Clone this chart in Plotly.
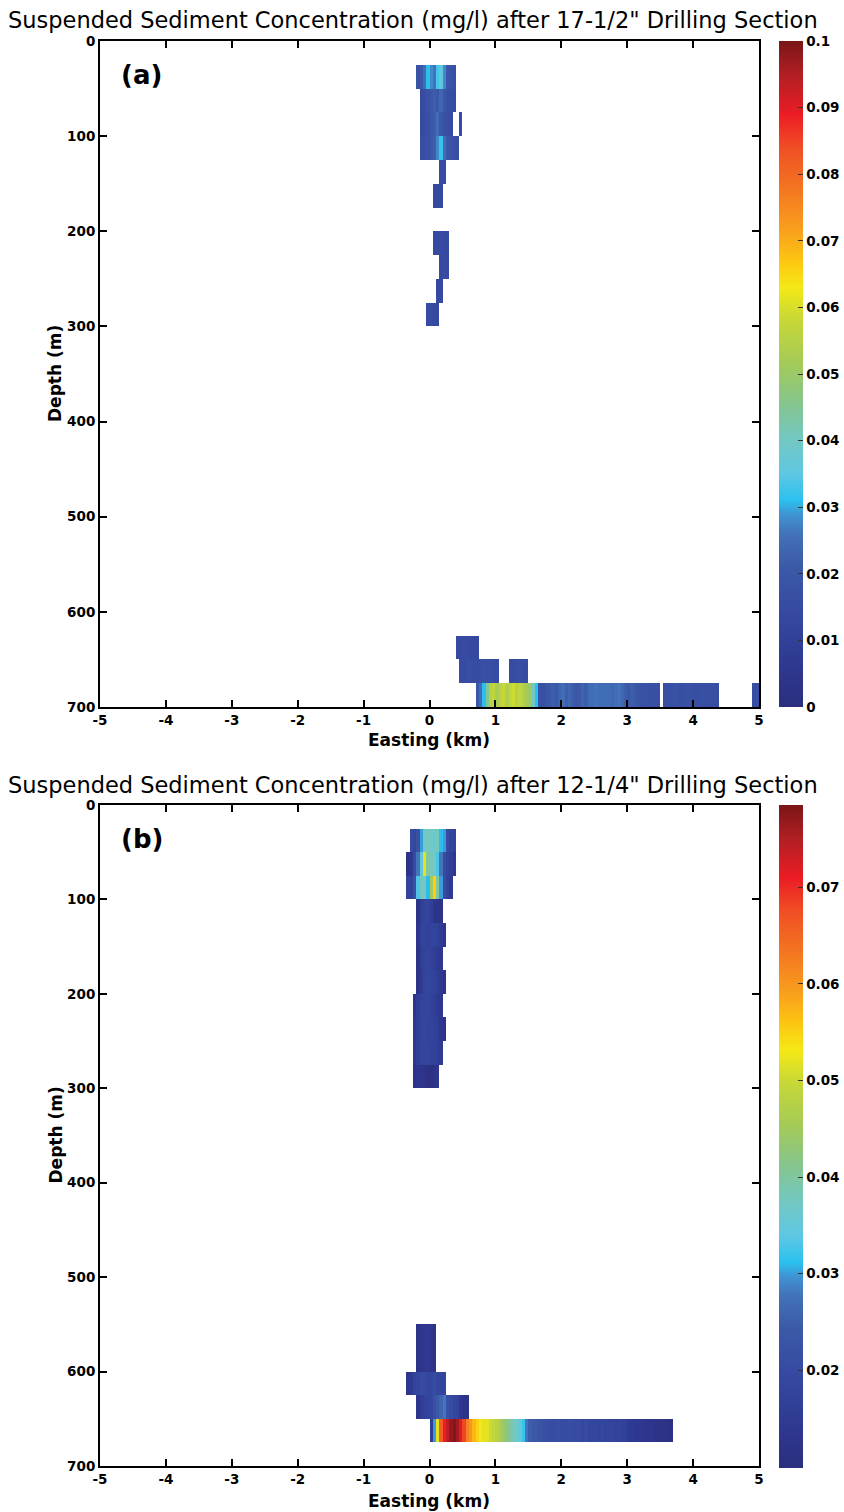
import numpy as np
import plotly.graph_objects as go

# ---------------- data ----------------
DX = 0.05          # km, cell width
DZ = 25            # m, layer thickness
x_edges = np.round(np.arange(-5, 5 + DX / 2, DX), 4)
y_edges = np.arange(0, 700 + DZ, DZ)

# panel (a): layer top depth (m), first cell west edge (km), cell values (mg/l)
a_depth = [25, 50, 75, 100, 125, 150, 200, 225, 250, 275, 625, 650, 675]
a_xstart = [-0.20, -0.15, -0.15, -0.15, 0.15, 0.05, 0.05, 0.15, 0.10, -0.05, 0.40, 0.45, 0.70]
a_values = [
    [0.018, 0.020, 0.025, 0.031, 0.028, 0.026, 0.033, 0.036, 0.028, 0.020, 0.018, 0.017],
    [0.015, 0.016, 0.018, 0.020, 0.022, 0.020, 0.024, 0.020, 0.017, 0.016, 0.015],
    [0.014, 0.015, 0.017, 0.020, 0.022, 0.025, 0.020, 0.017, 0.016, 0.015, None, None, 0.015],
    [0.016, 0.017, 0.018, 0.020, 0.022, 0.028, 0.032, 0.025, 0.020, 0.018, 0.017, 0.016],
    [0.015, 0.015],
    [0.014, 0.014, 0.014],
    [0.014, 0.014, 0.015, 0.014, 0.014],
    [0.014, 0.015, 0.014],
    [0.014, 0.014],
    [0.015, 0.015, 0.014, 0.014],
    [0.014, 0.014, 0.015, 0.015, 0.014, 0.014, 0.014],
    [0.015, 0.015, 0.016, 0.016, 0.015, 0.015, 0.016, 0.017, 0.016, 0.016, 0.015, 0.015,
     None, None, None, 0.015, 0.015, 0.016, 0.016, 0.015, 0.015],
    [0.020, 0.025, 0.031, 0.045, 0.055, 0.057, 0.053, 0.056, 0.058, 0.054, 0.057, 0.059,
     0.055, 0.057, 0.054, 0.052, 0.050, 0.040, 0.031, 0.018, 0.017, 0.019, 0.020, 0.022,
     0.020, 0.023, 0.025, 0.022, 0.024, 0.022, 0.020, 0.021, 0.023, 0.022, 0.025, 0.025,
     0.026, 0.025, 0.025, 0.025, 0.025, 0.024, 0.025, 0.026, 0.024, 0.022, 0.020, 0.022,
     0.020, 0.019, 0.018, 0.018, 0.017, 0.017, 0.017, 0.017, None,
     0.016, 0.017, 0.017, 0.018, 0.017, 0.016, 0.017, 0.018, 0.017, 0.016, 0.016, 0.017,
     0.017, 0.016, 0.016, 0.017, 0.016,
     None, None, None, None, None, None, None, None, None, None, 0.016, 0.016],
]

# panel (b)
b_depth = [25, 50, 75, 100, 125, 150, 175, 200, 225, 250, 275, 550, 575, 600, 625, 650]
b_xstart = [-0.30, -0.35, -0.35, -0.20, -0.20, -0.20, -0.20, -0.25, -0.25, -0.25, -0.25,
            -0.20, -0.20, -0.35, -0.20, 0.00]
b_values = [
    [0.020, 0.019, 0.022, 0.030, 0.036, 0.038, 0.037, 0.036, 0.038, 0.031, 0.030, 0.020, 0.018, 0.017],
    [0.012, 0.014, 0.020, 0.028, 0.035, 0.052, 0.040, 0.038, 0.037, 0.033, 0.028, 0.020, 0.018, 0.016, 0.014],
    [0.018, 0.017, 0.022, 0.033, 0.038, 0.037, 0.031, 0.045, 0.055, 0.040, 0.030, 0.020, 0.017, 0.015],
    [0.012, 0.016, 0.018, 0.018, 0.016, 0.013, 0.012, 0.012],
    [0.013, 0.017, 0.018, 0.017, 0.018, 0.018, 0.017, 0.015, 0.013],
    [0.012, 0.016, 0.018, 0.018, 0.017, 0.016, 0.015, 0.014],
    [0.012, 0.015, 0.018, 0.019, 0.018, 0.017, 0.016, 0.014, 0.012],
    [0.013, 0.016, 0.018, 0.018, 0.018, 0.017, 0.016, 0.015, 0.014],
    [0.014, 0.016, 0.018, 0.019, 0.018, 0.018, 0.017, 0.016, 0.013, 0.012],
    [0.014, 0.016, 0.018, 0.018, 0.018, 0.017, 0.017, 0.016, 0.015],
    [0.012, 0.013, 0.013, 0.012, 0.011, 0.011, 0.012, 0.013],
    [0.012, 0.013, 0.014, 0.014, 0.013, 0.012],
    [0.012, 0.013, 0.014, 0.014, 0.013, 0.012],
    [0.013, 0.015, 0.018, 0.019, 0.020, 0.020, 0.019, 0.019, 0.020, 0.019, 0.018, 0.018],
    [0.013, 0.016, 0.017, 0.018, 0.019, 0.022, 0.024, 0.026, 0.028, 0.022, 0.020, 0.019,
     0.018, 0.014, 0.012, 0.012],
    [0.016, 0.030, 0.052, 0.066, 0.071, 0.074, 0.077, 0.078, 0.076, 0.072, 0.068, 0.062,
     0.060, 0.057, 0.055, 0.053, 0.052, 0.052, 0.050, 0.049, 0.048, 0.046, 0.044, 0.042,
     0.039, 0.038, 0.037, 0.035, 0.032, 0.028,
     0.025, 0.024, 0.024, 0.023, 0.022,
     0.021, 0.021, 0.020, 0.021, 0.021, 0.020, 0.020, 0.021, 0.020, 0.020, 0.020, 0.019,
     0.020, 0.019, 0.019, 0.019, 0.018, 0.019, 0.018, 0.018, 0.018, 0.017, 0.018, 0.017,
     0.017,
     0.015, 0.015, 0.014, 0.014, 0.014, 0.013, 0.013, 0.013, 0.012, 0.012, 0.012, 0.012,
     0.011, 0.011],
]

a_range = (0.0, 0.1)
b_range = (0.0099, 0.0785)
a_ticks = [0, 0.01, 0.02, 0.03, 0.04, 0.05, 0.06, 0.07, 0.08, 0.09, 0.1]
a_ticktext = ["0", "0.01", "0.02", "0.03", "0.04", "0.05", "0.06", "0.07", "0.08", "0.09", "0.1"]
b_ticks = [0.02, 0.03, 0.04, 0.05, 0.06, 0.07]
b_ticktext = ["0.02", "0.03", "0.04", "0.05", "0.06", "0.07"]

x_ticks = [-5, -4, -3, -2, -1, 0, 1, 2, 3, 4, 5]
x_ticktext = ["-5", "-4", "-3", "-2", "-1", "0", "1", "2", "3", "4", "5"]
y_ticks = [0, 100, 200, 300, 400, 500, 600, 700]

title_a = "Suspended Sediment Concentration (mg/l) after 17-1/2\" Drilling Section"
title_b = "Suspended Sediment Concentration (mg/l) after 12-1/4\" Drilling Section"

# ---------------- build grids ----------------
def build_grid(depths, xstarts, values):
    nrow = len(y_edges) - 1
    ncol = len(x_edges) - 1
    z = [[None] * ncol for _ in range(nrow)]
    for d, xs, vals in zip(depths, xstarts, values):
        r = int(round(d / DZ))
        c0 = int(round((xs + 5) / DX))
        for i, v in enumerate(vals):
            if 0 <= c0 + i < ncol:
                z[r][c0 + i] = v
    return z

cmap = [
    [0.00, "#2b2f7e"], [0.06, "#2e3890"], [0.14, "#3549a0"], [0.21, "#3c59a8"],
    [0.26, "#4272b9"], [0.29, "#3f95d3"], [0.31, "#2ac1ef"], [0.35, "#5ec7e2"],
    [0.40, "#72c8c4"], [0.46, "#87c58a"], [0.52, "#a6cb55"], [0.58, "#c6d737"],
    [0.63, "#f4e916"], [0.67, "#fdc611"], [0.71, "#f9a41b"], [0.77, "#f47b20"],
    [0.84, "#f04e24"], [0.89, "#ec1c24"], [0.95, "#b01f24"], [1.00, "#7a1517"],
]

W, H = 844, 1512
def px_x(p):
    return p / W
def px_y(p):
    return 1 - p / H

FONT = "DejaVu Sans, Liberation Sans, Arial, sans-serif"
bold = dict(family=FONT, size=13.5, color="black", weight="bold")

panels = [
    dict(z=build_grid(a_depth, a_xstart, a_values), rng=a_range, ticks=a_ticks,
         ticktext=a_ticktext, top=41, bot=707, cbtop=41, cbbot=707, xa="x", ya="y",
         title=title_a, label="(a)", title_y=20, xlab_y=740),
    dict(z=build_grid(b_depth, b_xstart, b_values), rng=b_range, ticks=b_ticks,
         ticktext=b_ticktext, top=805, bot=1466, cbtop=805, cbbot=1468, xa="x2", ya="y2",
         title=title_b, label="(b)", title_y=785, xlab_y=1501),
]

fig = go.Figure()
for p in panels:
    fig.add_trace(go.Heatmap(
        z=p["z"], x=x_edges, y=y_edges, xaxis=p["xa"], yaxis=p["ya"],
        colorscale=cmap, zmin=p["rng"][0], zmax=p["rng"][1], zsmooth=False,
        hoverongaps=False,
        colorbar=dict(
            x=px_x(779), xanchor="left", xref="paper",
            y=px_y((p["cbtop"] + p["cbbot"]) / 2), yanchor="middle", yref="paper",
            len=(p["cbbot"] - p["cbtop"]) / H, lenmode="fraction",
            thickness=24, thicknessmode="pixels", outlinewidth=0,
            tickvals=p["ticks"], ticktext=p["ticktext"], ticks="inside",
            ticklen=5, tickcolor="#333333", tickwidth=1,
            tickfont=bold, xpad=0, ypad=0,
        ),
    ))

axis_common = dict(
    showline=True, linecolor="black", linewidth=2, mirror="ticks",
    ticks="inside", ticklen=7, tickwidth=2, tickcolor="black",
    showgrid=False, zeroline=False, tickfont=bold, fixedrange=True, automargin=False,
)

fig.update_layout(
    width=W, height=H, margin=dict(l=0, r=0, t=0, b=0, autoexpand=False),
    paper_bgcolor="white", plot_bgcolor="white", showlegend=False,
    xaxis=dict(domain=[px_x(100), px_x(759)], range=[-5, 5], tickvals=x_ticks,
               ticktext=x_ticktext, anchor="y", **axis_common),
    yaxis=dict(domain=[px_y(707), px_y(41)], range=[700, 0], tickvals=y_ticks,
               anchor="x", **axis_common),
    xaxis2=dict(domain=[px_x(100), px_x(759)], range=[-5, 5], tickvals=x_ticks,
                ticktext=x_ticktext, anchor="y2", **axis_common),
    yaxis2=dict(domain=[px_y(1466), px_y(805)], range=[700, 0], tickvals=y_ticks,
                anchor="x2", **axis_common),
)

ann = []
for p in panels:
    ann.append(dict(text=p["title"], x=px_x(413), y=px_y(p["title_y"]), xref="paper", yref="paper",
                    xanchor="center", yanchor="middle", showarrow=False,
                    font=dict(family=FONT, size=22.5, color="black")))
    ann.append(dict(text=p["label"], x=px_x(119), y=px_y(p["top"] + 34), xref="paper", yref="paper",
                    xanchor="left", yanchor="middle", showarrow=False,
                    font=dict(family=FONT, size=26, color="black", weight="bold")))
    ann.append(dict(text="Easting (km)", x=px_x(429), y=px_y(p["xlab_y"]), xref="paper", yref="paper",
                    xanchor="center", yanchor="middle", showarrow=False,
                    font=dict(family=FONT, size=17, color="black", weight="bold")))
    ann.append(dict(text="Depth (m)", x=px_x(55), y=px_y((p["top"] + p["bot"]) / 2), xref="paper",
                    yref="paper", xanchor="center", yanchor="middle", showarrow=False, textangle=-90,
                    font=dict(family=FONT, size=17, color="black", weight="bold")))
fig.update_layout(annotations=ann)

fig.write_html("out.html")
